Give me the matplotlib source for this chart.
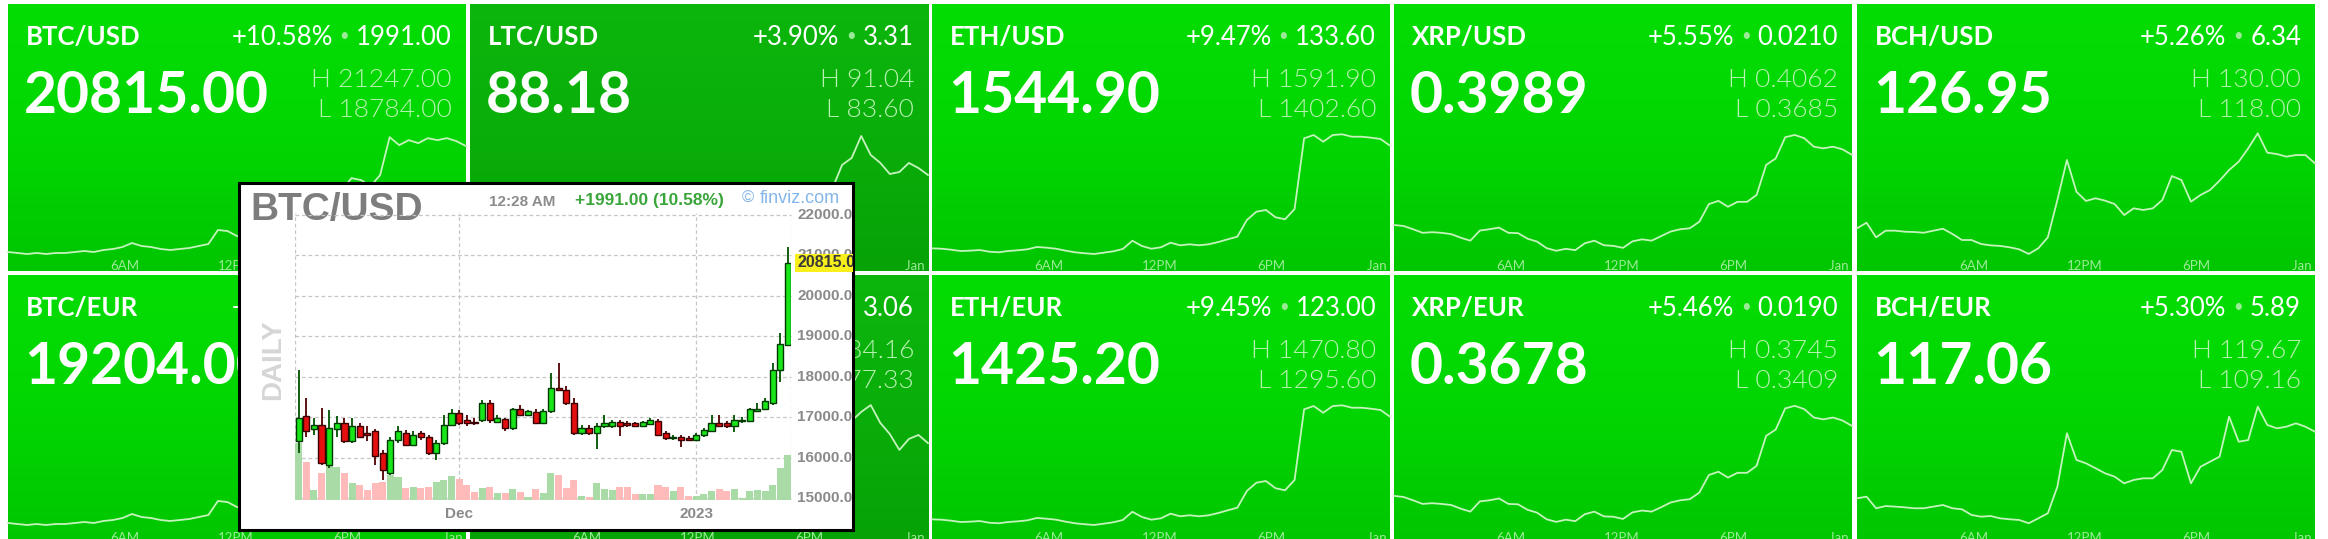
import numpy as np
import pandas as pd
import matplotlib
matplotlib.use("Agg")
import matplotlib.pyplot as plt
import matplotlib.transforms as mtransforms
from matplotlib.colors import LinearSegmentedColormap

# ---- tile data ----
pairs = ["BTC/USD", "LTC/USD", "ETH/USD", "XRP/USD", "BCH/USD",
         "BTC/EUR", "LTC/EUR", "ETH/EUR", "XRP/EUR", "BCH/EUR"]
last_price = ["20815.00", "88.18", "1544.90", "0.3989", "126.95",
              "19204.00", "81.35", "1425.20", "0.3678", "117.06"]
change_pct = ["+10.58%", "+3.90%", "+9.47%", "+5.55%", "+5.26%",
              "+10.58%", "+3.91%", "+9.45%", "+5.46%", "+5.30%"]
change_abs = ["1991.00", "3.31", "133.60", "0.0210", "6.34",
              "1837.00", "3.06", "123.00", "0.0190", "5.89"]
day_high = ["21247.00", "91.04", "1591.90", "0.4062", "130.00",
            "19602.00", "84.16", "1470.80", "0.3745", "119.67"]
day_low = ["18784.00", "83.60", "1402.60", "0.3685", "118.00",
           "17330.00", "77.33", "1295.60", "0.3409", "109.16"]

# intraday sparklines (evenly spaced over the session)
spark_btc_usd = [18864, 18844, 18824, 18844, 18824, 18844, 18844, 18864, 18884, 18864,
                 18904, 18924, 18964, 19044, 18984, 18964, 18924, 18904, 18924, 18944,
                 18984, 19024, 19304, 19284, 19184, 19144, 19184, 19264, 19344, 19384,
                 19464, 19584, 19664, 19804, 19944, 20104, 20344, 20304, 20184, 20404,
                 21164, 21004, 21104, 21044, 21144, 21104, 21144, 21084, 20984]
spark_ltc_usd = [84.87, 84.69, 84.57, 84.45, 84.57, 84.69, 84.51, 84.33, 84.21, 84.08,
                 84.14, 84.27, 84.39, 84.21, 84.02, 83.90, 83.96, 84.08, 84.27, 84.45,
                 84.69, 84.81, 85.05, 84.93, 85.17, 85.42, 85.54, 85.29, 85.48, 85.78,
                 86.02, 86.14, 86.38, 86.69, 86.50, 86.99, 87.23, 87.47, 87.71, 89.11,
                 89.53, 90.86, 89.71, 89.23, 88.56, 88.68, 89.23, 88.92, 88.50]
spark_eth_usd = [1414.4, 1413.8, 1412.3, 1410.3, 1410.8, 1411.8, 1409.2, 1408.3, 1410.3, 1411.4,
                 1412.9, 1416.5, 1415.4, 1413.8, 1410.8, 1408.3, 1406.8, 1405.7, 1407.7, 1409.8,
                 1413.4, 1426.1, 1418.0, 1413.8, 1416.0, 1423.1, 1419.1, 1420.6, 1419.1, 1420.6,
                 1424.1, 1428.3, 1432.3, 1458.0, 1470.8, 1473.4, 1462.2, 1459.1, 1475.0, 1583.7,
                 1588.8, 1578.5, 1588.8, 1589.9, 1586.2, 1586.2, 1584.7, 1582.7, 1572.4]
spark_xrp_usd = [0.3780, 0.3777, 0.3767, 0.3756, 0.3758, 0.3756, 0.3752, 0.3741, 0.3732, 0.3763,
                 0.3767, 0.3772, 0.3756, 0.3755, 0.3738, 0.3729, 0.3709, 0.3701, 0.3707, 0.3703,
                 0.3724, 0.3732, 0.3718, 0.3716, 0.3710, 0.3730, 0.3736, 0.3732, 0.3746, 0.3760,
                 0.3767, 0.3770, 0.3790, 0.3844, 0.3854, 0.3836, 0.3851, 0.3851, 0.3872, 0.3964,
                 0.3984, 0.4049, 0.4056, 0.4046, 0.4020, 0.4015, 0.4020, 0.4012, 0.3995]
spark_bch_usd = [120.70, 121.25, 119.82, 120.47, 120.47, 120.37, 120.34, 120.27, 120.47, 120.66,
                 120.15, 119.56, 119.56, 119.17, 119.04, 118.98, 118.85, 118.65, 118.20, 118.75,
                 119.82, 123.46, 127.37, 124.27, 123.37, 123.63, 123.40, 123.07, 122.00, 122.65,
                 122.49, 122.65, 123.46, 125.80, 125.41, 123.30, 123.95, 124.44, 125.35, 126.39,
                 127.20, 128.50, 129.97, 128.08, 127.95, 127.69, 127.85, 127.85, 127.04]
spark_btc_eur = [17404, 17385, 17367, 17385, 17367, 17385, 17385, 17404, 17422, 17404,
                 17441, 17459, 17496, 17570, 17514, 17496, 17459, 17441, 17459, 17478,
                 17514, 17551, 17810, 17791, 17699, 17662, 17699, 17773, 17847, 17883,
                 17957, 18068, 18142, 18271, 18400, 18548, 18769, 18732, 18621, 18824,
                 19525, 19378, 19470, 19415, 19507, 19470, 19507, 19452, 19359]
spark_ltc_eur = [78.50, 78.33, 78.22, 78.11, 78.22, 78.33, 78.17, 78.00, 77.89, 77.77,
                 77.83, 77.95, 78.06, 77.89, 77.72, 77.61, 77.66, 77.77, 77.95, 78.11,
                 78.33, 78.44, 78.66, 78.55, 78.77, 79.00, 79.11, 78.88, 79.06, 79.33,
                 79.55, 79.66, 79.88, 80.17, 79.99, 80.44, 80.66, 80.88, 81.10, 82.39,
                 83.22, 83.72, 84.10, 83.11, 82.49, 81.61, 82.22, 82.44, 81.99]
spark_eth_eur = [1306.5, 1306.0, 1304.6, 1302.7, 1303.2, 1304.1, 1301.7, 1300.9, 1302.7, 1303.7,
                 1305.1, 1308.5, 1307.4, 1306.0, 1303.2, 1300.9, 1299.5, 1298.5, 1300.3, 1302.3,
                 1305.6, 1317.3, 1309.9, 1306.0, 1308.0, 1314.6, 1310.9, 1312.3, 1310.9, 1312.3,
                 1315.5, 1319.4, 1323.1, 1346.9, 1358.7, 1361.1, 1350.8, 1347.9, 1362.6, 1463.2,
                 1467.9, 1458.4, 1467.9, 1468.9, 1465.5, 1465.5, 1464.1, 1462.3, 1452.8]
spark_xrp_eur = [0.3494, 0.3491, 0.3482, 0.3472, 0.3474, 0.3472, 0.3469, 0.3459, 0.3451, 0.3479,
                 0.3482, 0.3487, 0.3472, 0.3471, 0.3456, 0.3448, 0.3430, 0.3423, 0.3429, 0.3425,
                 0.3444, 0.3451, 0.3438, 0.3437, 0.3431, 0.3449, 0.3454, 0.3451, 0.3463, 0.3476,
                 0.3482, 0.3485, 0.3503, 0.3551, 0.3560, 0.3544, 0.3557, 0.3557, 0.3576, 0.3658,
                 0.3675, 0.3733, 0.3740, 0.3731, 0.3708, 0.3703, 0.3708, 0.3700, 0.3685]
spark_bch_eur = [111.61, 111.75, 110.76, 110.95, 110.90, 110.84, 110.76, 110.76, 110.90, 111.04,
                 110.76, 110.67, 110.19, 110.04, 110.10, 109.90, 109.82, 109.76, 109.48, 109.90,
                 110.33, 112.60, 117.17, 114.89, 114.60, 114.18, 113.75, 113.46, 112.89, 113.18,
                 113.32, 113.32, 114.03, 115.74, 115.59, 112.89, 114.31, 114.74, 115.17, 118.59,
                 116.45, 116.59, 119.44, 117.88, 117.59, 117.73, 118.02, 117.73, 117.30]
sparks = [spark_btc_usd, spark_ltc_usd, spark_eth_usd, spark_xrp_usd, spark_bch_usd,
          spark_btc_eur, spark_ltc_eur, spark_eth_eur, spark_xrp_eur, spark_bch_eur]
spark_hours = (-0.3, 24.4)
spark_ticks = [6, 12, 18, 24]
spark_tick_labels = ["6AM", "12PM", "6PM", "Jan 1"]

# ---- popup: BTC/USD daily candles ----
candle_dates = pd.date_range("2022-11-10", periods=65, freq="D")
candle_open = [16400, 17020, 16700, 16810, 15820, 16700, 16850, 16400, 16790, 16600,
               16650, 16110, 15620, 16440, 16600, 16320, 16600, 16520, 16110, 16360,
               16810, 17100, 16930, 16890, 16930, 17350, 16890, 16950, 16730, 17190,
               17060, 17120, 16850, 17140, 17720, 17680, 17350, 16600, 16730, 16600,
               16770, 16770, 16880, 16850, 16850, 16790, 16840, 16900, 16600, 16480,
               16520, 16480, 16440, 16560, 16650, 16850, 16850, 16770, 16900, 16900,
               17140, 17200, 17350, 18170, 18790]
candle_high = [18170, 17470, 16990, 17230, 17180, 17030, 16970, 16970, 16850, 16790,
               16700, 16190, 16520, 16770, 16690, 16650, 16650, 16560, 16440, 17060,
               17200, 17180, 17060, 16970, 17430, 17430, 17060, 16990, 17230, 17310,
               17180, 17200, 17200, 18090, 18330, 17770, 17470, 16810, 16810, 16850,
               17060, 16940, 16940, 16900, 16890, 16900, 16980, 16960, 16650, 16560,
               16570, 16530, 16600, 16720, 17060, 17060, 16900, 17060, 17000, 17230,
               17350, 17470, 18330, 19080, 21220]
candle_low = [16110, 16520, 16570, 15820, 15740, 16520, 16360, 16360, 16480, 16400,
              15820, 15450, 15580, 16360, 16280, 16280, 16440, 16070, 15950, 16320,
              16770, 16810, 16770, 16810, 16890, 16850, 16850, 16650, 16690, 17020,
              17020, 16830, 16830, 17100, 17640, 17310, 16570, 16570, 16570, 16200,
              16730, 16730, 16530, 16760, 16770, 16750, 16800, 16530, 16440, 16440,
              16270, 16400, 16400, 16520, 16630, 16770, 16730, 16630, 16860, 16880,
              17120, 17180, 17310, 17880, 18760]
candle_close = [16975, 16650, 16810, 15860, 16730, 16850, 16400, 16770, 16520, 16550,
                16030, 15700, 16440, 16650, 16320, 16560, 16520, 16110, 16360, 16810,
                17100, 16850, 16850, 16850, 17350, 16930, 16970, 16730, 17190, 17060,
                17140, 16850, 17140, 17720, 17680, 17350, 16600, 16730, 16600, 16770,
                16850, 16880, 16770, 16810, 16770, 16880, 16920, 16570, 16480, 16520,
                16440, 16440, 16560, 16690, 16850, 16770, 16770, 16940, 16940, 17200,
                17200, 17390, 18170, 18810, 20815]
candle_volume = [170, 115, 30, 80, 105, 100, 80, 50, 45, 30,
                 50, 55, 75, 70, 35, 40, 35, 40, 55, 60,
                 72, 62, 45, 25, 35, 40, 22, 22, 32, 25,
                 10, 32, 22, 80, 75, 35, 60, 12, 10, 50,
                 32, 30, 40, 40, 18, 18, 18, 45, 40, 28,
                 40, 12, 12, 18, 28, 32, 28, 32, 5, 28,
                 30, 28, 45, 95, 135]
price_ticks = list(range(15000, 22001, 1000))
popup_time = "12:28 AM"
popup_change = "+1991.00 (10.58%)"

W, H = 2328, 539
fig = plt.figure(figsize=(W / 100, H / 100), dpi=100)
fig.patch.set_facecolor("white")


def rect(x0, y0, x1, y1):
    return [x0 / W, 1 - y1 / H, (x1 - x0) / W, (y1 - y0) / H]


TILE_FONT = ["Lato", "DejaVu Sans"]
CHART_FONT = ["Liberation Sans", "DejaVu Sans"]

bright = LinearSegmentedColormap.from_list("bright", ["#04dd04", "#02d602", "#00c600"])
dim = LinearSegmentedColormap.from_list("dim", ["#0cb60c", "#0aae0a", "#06a206"])

col_x = [8, 470, 932, 1394, 1857]
row_y = [4, 275]
tile_w, tile_h = 458, 267

for k, pair in enumerate(pairs):
    r, c = divmod(k, 5)
    x0, y0 = col_x[c], row_y[r]
    ax = fig.add_axes(rect(x0, y0, x0 + tile_w, y0 + tile_h), zorder=1)
    cmap = bright if float(change_pct[k].rstrip("%")) >= 5 else dim
    ax.imshow(np.linspace(0, 1, 256).reshape(-1, 1), cmap=cmap, aspect="auto",
              extent=(0, tile_w, tile_h, 0), interpolation="bilinear")
    ax.set_xlim(0, tile_w)
    ax.set_ylim(tile_h, 0)
    ax.axis("off")

    ax.text(18, 41, pair, fontsize=18.5, fontweight="bold", color="white", family=TILE_FONT)
    ax.text(16, 109, last_price[k], fontsize=41, fontweight="bold", color="white", family=TILE_FONT)

    t_abs = ax.text(444, 41, change_abs[k], ha="right", fontsize=18.5, color="white", family=TILE_FONT)
    t_dot = ax.annotate("\u2022", xy=(0, 0), xycoords=t_abs, xytext=(-5, 4),
                        textcoords="offset points", ha="right", va="bottom",
                        fontsize=12, color="#9aea96", family=TILE_FONT)
    ax.annotate(change_pct[k], xy=(0, 0), xycoords=(t_dot, t_abs), xytext=(-5, 0),
                textcoords="offset points", ha="right", va="bottom",
                fontsize=18.5, color="white", family=TILE_FONT)
    ax.text(444, 83, "H " + day_high[k], ha="right", fontsize=19, fontweight=300,
            color="#b8f2b2", family=TILE_FONT)
    ax.text(444, 113, "L " + day_low[k], ha="right", fontsize=19, fontweight=300,
            color="#b8f2b2", family=TILE_FONT)

    sax = fig.add_axes(rect(x0, y0 + 129, x0 + tile_w, y0 + 252), zorder=2)
    vals = sparks[k]
    sax.plot(np.linspace(spark_hours[0], spark_hours[1], len(vals)), vals,
             color="#c4f4bc", lw=1.3, clip_on=False)
    sax.set_xlim(*spark_hours)
    sax.set_ylim(float(day_low[k]), float(day_high[k]))
    sax.axis("off")

    tr = mtransforms.blended_transform_factory(sax.transData, ax.transData)
    for h, lab in zip(spark_ticks, spark_tick_labels):
        ax.text(h, 256.5, lab, transform=tr, ha="center", va="top", fontsize=9.5,
                color="#9ceb98", family=TILE_FONT, clip_on=True)

# ---- popup ----
fx0, fy0, fx1, fy1 = 239, 183, 853, 530
frame = fig.add_axes(rect(fx0, fy0, fx1, fy1), zorder=10)
frame.set_xlim(0, fx1 - fx0)
frame.set_ylim(fy1 - fy0, 0)
frame.set_xticks([])
frame.set_yticks([])
frame.set_facecolor("white")
for s in frame.spines.values():
    s.set_linewidth(2.2)
    s.set_color("black")

box = rect(295, 213, 791, 500)
ax_v = fig.add_axes(box, zorder=11)
ax_p = fig.add_axes(box, zorder=12)
idx = np.arange(len(candle_dates))
xl = (-0.47, 64.39)
for a in (ax_v, ax_p):
    a.set_xlim(*xl)
    a.axis("off")
ax_p.set_ylim(14950, 22050)
ax_v.set_ylim(0, 861)

o = np.array(candle_open)
cl = np.array(candle_close)
up = cl >= o

grid_kw = dict(color="#c6c6c6", lw=0.9, ls=(0, (3, 2.2)), zorder=0)
gtr = mtransforms.blended_transform_factory(ax_v.transAxes, ax_p.transData)
for p in price_ticks:
    ax_v.plot([0, 1], [p, p], transform=gtr, clip_on=False, **grid_kw)
dec1 = int(np.where(candle_dates == pd.Timestamp("2022-12-01"))[0][0])
jan1 = int(np.where(candle_dates == pd.Timestamp("2023-01-01"))[0][0])
for xv in (xl[0], dec1, jan1, xl[1]):
    ax_v.axvline(xv, **grid_kw)

ax_v.bar(idx, candle_volume, width=0.92, color=np.where(up, "#a8dba6", "#ffbaba"), zorder=1)

ax_p.vlines(idx, candle_low, candle_high, colors=np.where(up, "#005200", "#520000"),
            linewidth=1.3, zorder=2)
ax_p.bar(idx, np.abs(cl - o), bottom=np.minimum(o, cl), width=0.8,
         color=np.where(up, "#19e619", "#e60f0f"),
         edgecolor=np.where(up, "#003800", "#380000"), linewidth=1.0, zorder=3)

ytr = mtransforms.blended_transform_factory(frame.transData, ax_p.transData)
for p in price_ticks:
    frame.text(558, p, f"{p:.2f}", transform=ytr, va="center", fontsize=11,
               fontweight="bold", color="#8a8a8a", family=CHART_FONT, clip_on=True)
frame.text(558, candle_close[-1], f"{candle_close[-1]:.2f}", transform=ytr, va="center",
           fontsize=11.5, fontweight="bold", color="#3a3a3a", family=CHART_FONT, clip_on=True,
           bbox=dict(boxstyle="square,pad=0.12", fc="#f8ef1c", ec="none"))

xtr = mtransforms.blended_transform_factory(ax_p.transData, frame.transData)
frame.text(dec1, 335, "Dec", transform=xtr, ha="center", fontsize=11, fontweight="bold",
           color="#8a8a8a", family=CHART_FONT)
frame.text(jan1, 335, str(candle_dates[jan1].year), transform=xtr, ha="center", fontsize=11,
           fontweight="bold", color="#8a8a8a", family=CHART_FONT)

frame.text(11, 37, "BTC/USD", fontsize=28, fontweight="bold", color="#7d7d7d", family=CHART_FONT)
frame.text(250, 23, popup_time, fontsize=11, fontweight="bold", color="#8c8c8c", family=CHART_FONT)
frame.text(336, 22, popup_change, fontsize=12.5, fontweight="bold", color="#3aa53a", family=CHART_FONT)
frame.text(503, 20, "\u00a9", fontsize=12, color="#84b6ea", family=CHART_FONT)
frame.text(521, 20, "finviz.com", fontsize=13, color="#84b6ea", family=CHART_FONT)
frame.text(34, 177, "DAILY", rotation=90, ha="center", va="center", fontsize=20,
           fontweight="bold", color="#d6d6d6", family=CHART_FONT)

fig.savefig("out.png", dpi=100, facecolor="white")
